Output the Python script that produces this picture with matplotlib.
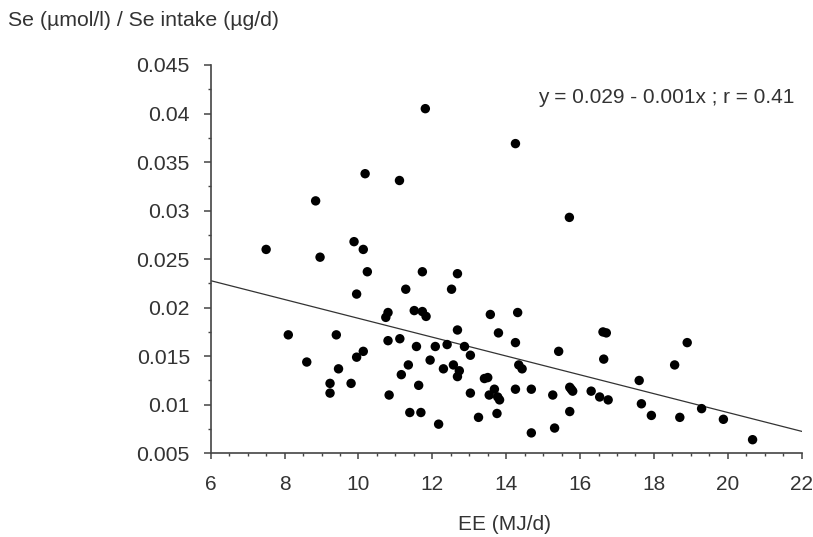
import matplotlib.pyplot as plt
from matplotlib.ticker import MultipleLocator
import numpy as np

plt.rcParams['font.family'] = ['Liberation Sans', 'DejaVu Sans']

# energy expenditure (MJ/d)
ee = [11.81, 10.18, 11.11, 8.84, 7.50, 8.96, 9.88, 10.13, 14.25, 15.71,
      10.24, 9.95, 11.73, 12.68, 11.28, 12.52, 10.74, 10.80, 11.51, 11.73,
      11.83, 13.57, 13.79, 8.10, 9.40, 12.68, 10.80, 11.12, 11.57, 12.08,
      12.40, 12.87, 13.03, 9.95, 10.13, 8.60, 9.46, 11.35, 11.94, 12.30,
      12.57, 12.73, 12.68, 11.16, 9.23, 9.23, 9.80, 11.63, 13.03, 13.41,
      13.50, 13.68, 13.54, 13.77, 13.75, 10.83, 11.39, 11.69, 12.17, 13.25,
      14.31, 14.25, 15.42, 16.62, 16.71, 16.64, 18.90, 18.56, 14.34, 14.43,
      13.82, 14.25, 14.68, 15.26, 15.72, 15.80, 15.76, 16.30, 16.53, 16.76,
      17.60, 17.66, 17.93, 18.70, 19.29, 19.88, 20.67, 14.68, 15.31, 15.72]

# Se (umol/l) / Se intake (ug/d)
se_ratio = [0.0405, 0.0338, 0.0331, 0.0310, 0.0260, 0.0252, 0.0268, 0.0260, 0.0369, 0.0293,
            0.0237, 0.0214, 0.0237, 0.0235, 0.0219, 0.0219, 0.0190, 0.0195, 0.0197, 0.0196,
            0.0191, 0.0193, 0.0174, 0.0172, 0.0172, 0.0177, 0.0166, 0.0168, 0.0160, 0.0160,
            0.0162, 0.0160, 0.0151, 0.0149, 0.0155, 0.0144, 0.0137, 0.0141, 0.0146, 0.0137,
            0.0141, 0.0135, 0.0129, 0.0131, 0.0122, 0.0112, 0.0122, 0.0120, 0.0112, 0.0127,
            0.0128, 0.0116, 0.0110, 0.0108, 0.0091, 0.0110, 0.0092, 0.0092, 0.0080, 0.0087,
            0.0195, 0.0164, 0.0155, 0.0175, 0.0174, 0.0147, 0.0164, 0.0141, 0.0141, 0.0137,
            0.0105, 0.0116, 0.0116, 0.0110, 0.0118, 0.0114, 0.0116, 0.0114, 0.0108, 0.0105,
            0.0125, 0.0101, 0.0089, 0.0087, 0.0096, 0.0085, 0.0064, 0.0071, 0.0076, 0.0093]

# regression line as drawn
intercept = 0.0286
slope = -0.00097
line_x = [6, 22]

yticks = [0.005, 0.01, 0.015, 0.02, 0.025, 0.03, 0.035, 0.04, 0.045]
ytick_labels = ['0.005', '0.01', '0.015', '0.02', '0.025', '0.03', '0.035', '0.04', '0.045']
xticks = [6, 8, 10, 12, 14, 16, 18, 20, 22]

txt = '#333333'
axc = '#444444'

fig = plt.figure(figsize=(8.13, 5.37), dpi=100)
ax = fig.add_axes([0.2592, 0.1559, 0.9861 - 0.2592, 0.879 - 0.1559])

ax.scatter(ee, se_ratio, s=46, color='black', edgecolors='none', zorder=3)
lx = np.array(line_x, dtype=float)
ax.plot(lx, intercept + slope * lx, color='#333333', lw=0.9, zorder=2)

ax.set_xlim(6, 22)
ax.set_ylim(0.005, 0.045)
ax.set_xticks(xticks)
ax.set_yticks(yticks)
ax.set_yticklabels(ytick_labels)
ax.xaxis.set_minor_locator(MultipleLocator(0.5))
ax.yaxis.set_minor_locator(MultipleLocator(0.0025))

ax.spines['right'].set_color('none')
ax.spines['top'].set_color('none')
for s in ['left', 'bottom']:
    ax.spines[s].set_color(axc)
    ax.spines[s].set_linewidth(1.2)

ax.tick_params(axis='x', which='major', direction='out', length=4.5, width=1.1,
               color=axc, labelcolor=txt, labelsize=15, pad=11)
ax.tick_params(axis='y', which='major', direction='out', length=5, width=1.1,
               color=axc, labelcolor=txt, labelsize=15.3, pad=10)
ax.tick_params(which='minor', direction='out', length=2, width=1, color=axc)

ax.text(0.988, 0.915, 'y = 0.029 - 0.001x ; r = 0.41', transform=ax.transAxes,
        ha='right', va='center', fontsize=15, color=txt)

fig.text(8 / 813, 1 - 20 / 537, 'Se (\u00b5mol/l) / Se intake (\u00b5g/d)',
         ha='left', va='center', fontsize=15.3, color=txt)
fig.text(504 / 813, 1 - 525 / 537, 'EE (MJ/d)', ha='center', va='center',
         fontsize=15, color=txt)

plt.savefig('out.png', dpi=100)
